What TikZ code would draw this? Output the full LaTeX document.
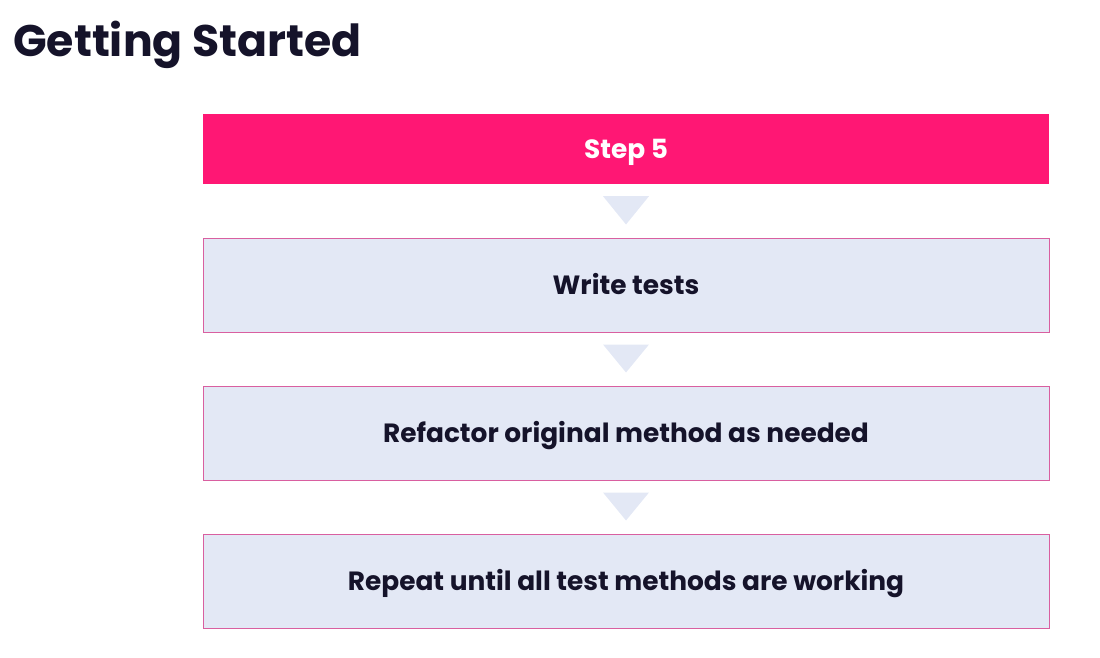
\documentclass[tikz,border=0pt]{standalone}
\usepackage{fontspec}
\setmainfont{Poppins}
\usetikzlibrary{calc}
\definecolor{pinkmain}{HTML}{FF1774}
\definecolor{boxfill}{HTML}{E3E8F5}
\definecolor{boxline}{HTML}{D95FA0}
\definecolor{ink}{HTML}{15132A}
\begin{document}
\begin{tikzpicture}[x=1pt,y=-1pt,
  boxtext/.style={font=\fontsize{26.4}{30}\selectfont\bfseries,text height=18.4pt,text depth=0pt},
  stepbox/.style={draw=boxline,line width=1pt,fill=boxfill,minimum width=846pt,minimum height=94pt,inner sep=0pt,text=ink,boxtext},
  headbox/.style={fill=pinkmain,minimum width=846pt,minimum height=70pt,inner sep=0pt,text=white,boxtext},
  arrowtri/.style={fill=boxfill}]
\useasboundingbox (0,0) rectangle (1100,658);
\node[anchor=base west,inner sep=0pt,text=ink,font=\fontsize{44.2}{50}\selectfont\bfseries] (title) at (13,57) {Getting Started};
\node[headbox] (s5) at (626,149) {Step 5};
\node[stepbox] (b1) at (626,285) {Write tests};
\node[stepbox] (b2) at (626,433) {Refactor original method as needed};
\node[stepbox] (b3) at (626,581) {Repeat until all test methods are working};
\foreach \u/\l in {s5/b1,b1/b2,b2/b3}{
  \fill[arrowtri] ($(\u.south)+(-23,12)$) -- ($(\u.south)+(23,12)$) -- ($(\l.north)+(0,-13)$) -- cycle;
}
\end{tikzpicture}
\end{document}
